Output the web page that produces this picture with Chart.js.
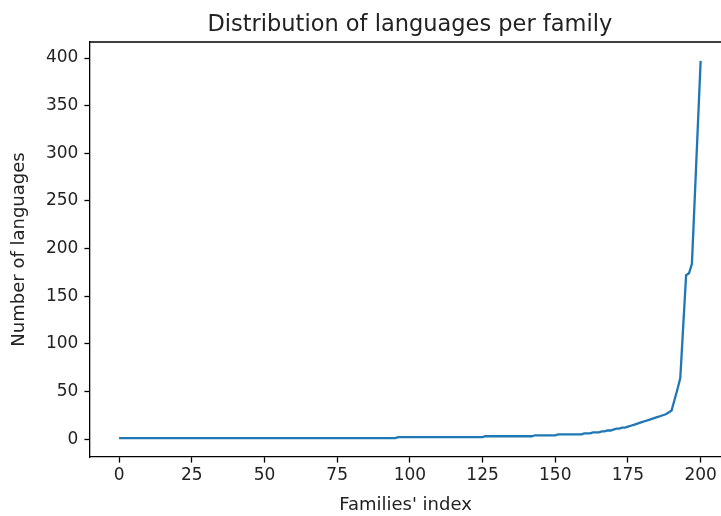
<!DOCTYPE html>
<html>
<head>
<meta charset="utf-8">
<script src="https://cdn.jsdelivr.net/npm/chart.js@4"></script>
<style>
  html, body { margin: 0; padding: 0; background: #fff; }
</style>
</head>
<body>
<canvas id="chart" width="721" height="516"></canvas>
<script>
// number of languages in each family, sorted ascending
const languageCounts = [
  1, 1, 1, 1, 1, 1, 1, 1, 1, 1, 1, 1, 1, 1, 1, 1, 1, 1, 1, 1,
  1, 1, 1, 1, 1, 1, 1, 1, 1, 1, 1, 1, 1, 1, 1, 1, 1, 1, 1, 1,
  1, 1, 1, 1, 1, 1, 1, 1, 1, 1, 1, 1, 1, 1, 1, 1, 1, 1, 1, 1,
  1, 1, 1, 1, 1, 1, 1, 1, 1, 1, 1, 1, 1, 1, 1, 1, 1, 1, 1, 1,
  1, 1, 1, 1, 1, 1, 1, 1, 1, 1, 1, 1, 1, 1, 1, 1, 2, 2, 2, 2,
  2, 2, 2, 2, 2, 2, 2, 2, 2, 2, 2, 2, 2, 2, 2, 2, 2, 2, 2, 2,
  2, 2, 2, 2, 2, 2, 3, 3, 3, 3, 3, 3, 3, 3, 3, 3, 3, 3, 3, 3,
  3, 3, 3, 4, 4, 4, 4, 4, 4, 4, 4, 5, 5, 5, 5, 5, 5, 5, 5, 5,
  6, 6, 6, 7, 7, 7, 8, 8, 9, 9, 10, 11, 11, 12, 12, 13, 14, 15, 16, 17,
  18, 19, 20, 21, 22, 23, 24, 25, 26, 28, 30, 41, 52, 64, 118, 172, 174, 184, 255, 326, 397
];
const familyIndex = languageCounts.map((_, i) => i);

const xTicks = [0, 25, 50, 75, 100, 125, 150, 175, 200];
const yTicks = [0, 50, 100, 150, 200, 250, 300, 350, 400];

const titleText = 'Distribution of languages per family';
const xLabel = "Families' index";
const yLabel = 'Number of languages';

// matplotlib style: 5% margins around the data
const yLo = Math.min(...languageCounts);
const yHi = Math.max(...languageCounts);
const yPad = (yHi - yLo) * 0.05;
const xPad = (familyIndex[familyIndex.length - 1] - familyIndex[0]) * 0.05;
const xAxesEnd = familyIndex[familyIndex.length - 1] + xPad; // right spine (cropped off)

const FONT = 'DejaVu Sans';
const TEXT = '#222';
const tickFont = { family: FONT, size: 17 };
const labelFont = { family: FONT, size: 18 };

const framePlugin = {
  id: 'frame',
  beforeDraw(chart) {
    const c = chart.ctx;
    c.save();
    c.fillStyle = '#fff';
    c.fillRect(0, 0, chart.width, chart.height);
    c.restore();
  },
  afterDraw(chart) {
    const c = chart.ctx;
    const a = chart.chartArea;
    const xs = chart.scales.x;
    c.save();
    // top spine
    c.strokeStyle = '#000';
    c.lineWidth = 1.3;
    c.beginPath();
    c.moveTo(a.left, a.top);
    c.lineTo(chart.width, a.top);
    c.stroke();
    // title, centred on the full axes box
    const cx = (a.left + xs.getPixelForValue(xAxesEnd)) / 2;
    c.fillStyle = TEXT;
    c.font = '22.5px "' + FONT + '"';
    c.textAlign = 'center';
    c.textBaseline = 'middle';
    c.fillText(titleText, cx, a.top - 17);
    c.restore();
  }
};

new Chart(document.getElementById('chart').getContext('2d'), {
  type: 'line',
  data: {
    datasets: [{
      data: familyIndex.map((x, i) => ({ x, y: languageCounts[i] })),
      borderColor: '#1f77b4',
      borderWidth: 2.3,
      pointRadius: 0,
      tension: 0,
      fill: false
    }]
  },
  options: {
    responsive: false,
    animation: false,
    devicePixelRatio: 1,
    layout: { padding: { left: 0, right: 0, top: 42, bottom: 0 } },
    plugins: { legend: { display: false }, tooltip: { enabled: false } },
    scales: {
      x: {
        type: 'linear',
        min: familyIndex[0] - xPad,
        max: 207,
        afterBuildTicks: (s) => { s.ticks = xTicks.map((v) => ({ value: v })); },
        afterFit: (s) => { s.height = 59; },
        ticks: { font: tickFont, color: TEXT, padding: 3, maxRotation: 0, autoSkip: false },
        grid: { drawOnChartArea: false, tickLength: 5.6, tickWidth: 1.3, tickColor: '#000' },
        border: { color: '#000', width: 1.3 },
        title: { display: true, text: xLabel, font: labelFont, color: TEXT, padding: { top: 0, bottom: 0 } }
      },
      y: {
        min: yLo - yPad,
        max: yHi + yPad,
        afterBuildTicks: (s) => { s.ticks = yTicks.map((v) => ({ value: v })); },
        afterFit: (s) => { s.width = 90; },
        ticks: { font: tickFont, color: TEXT, padding: 6 },
        grid: { drawOnChartArea: false, tickLength: 5.6, tickWidth: 1.3, tickColor: '#000' },
        border: { color: '#000', width: 1.3 },
        title: { display: true, text: yLabel, font: labelFont, color: TEXT, padding: { top: 9, bottom: 0 } }
      }
    }
  },
  plugins: [framePlugin]
});
</script>
</body>
</html>
